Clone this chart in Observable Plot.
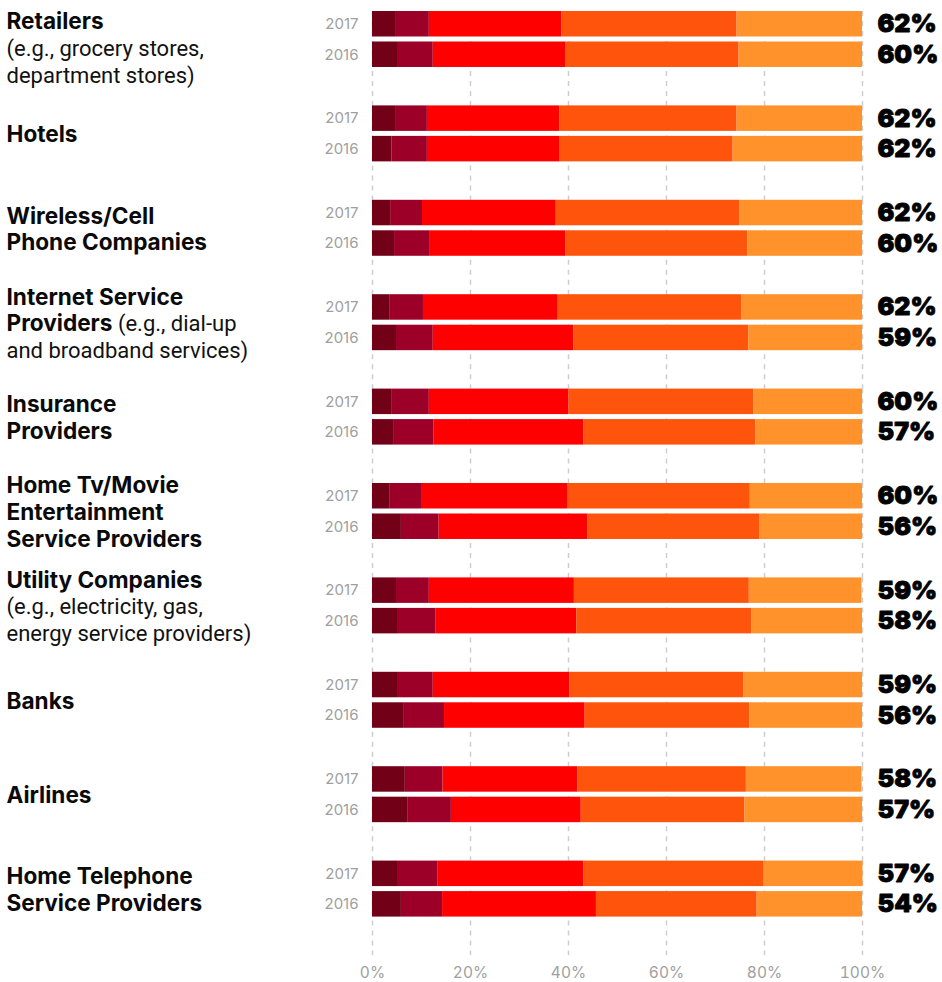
<!DOCTYPE html>
<html>
<head>
<meta charset="utf-8">
<script src="https://cdn.jsdelivr.net/npm/d3@7"></script>
<script src="https://cdn.jsdelivr.net/npm/@observablehq/plot@0.6"></script>
<style>
  html, body { margin: 0; padding: 0; background: #fff; }
  #chart svg { display: block; }
</style>
</head>
<body>
<div id="chart"></div>
<script>
// ---- Data ----
const categories = [
  "Retailers", "Hotels", "Wireless/Cell Phone Companies", "Internet Service Providers",
  "Insurance Providers", "Home Tv/Movie Entertainment Service Providers", "Utility Companies",
  "Banks", "Airlines", "Home Telephone Service Providers"
];
const boldLabels = [
  "Retailers", "Hotels", "Wireless/Cell\nPhone Companies", "Internet Service\nProviders",
  "Insurance\nProviders", "Home Tv/Movie\nEntertainment\nService Providers", "Utility Companies",
  "Banks", "Airlines", "Home Telephone\nService Providers"
];
const inlineNotes = ["", "", "", "(e.g., dial-up", "", "", "", "", "", ""];
const noteLabels = [
  "(e.g., grocery stores,\ndepartment stores)", "", "", "and broadband services)",
  "", "", "(e.g., electricity, gas,\nenergy service providers)", "", "", ""
];
const years = ["2017", "2016"];
const levels = ["1", "2", "3", "4", "5"];
const colors = ["#720016", "#9c0029", "#ff0000", "#ff540b", "#ff922b"];

// share of respondents per rating level (left to right), %
const share2017 = [
  [4.7, 6.9, 27.0, 35.8, 25.6],
  [4.7, 6.5, 27.0, 36.2, 25.6],
  [3.7, 6.5, 27.3, 37.5, 25.0],
  [3.5, 6.9, 27.5, 37.5, 24.6],
  [3.9, 7.7, 28.5, 37.7, 22.2],
  [3.5, 6.5, 29.8, 37.3, 22.9],
  [4.9, 6.7, 29.6, 35.7, 23.0],
  [5.1, 7.3, 27.9, 35.5, 24.2],
  [6.7, 7.7, 27.5, 34.4, 23.6],
  [5.1, 8.2, 29.8, 36.7, 20.3]
];
const share2016 = [
  [5.1, 7.3, 27.0, 35.4, 25.2],
  [4.0, 7.2, 27.1, 35.3, 26.4],
  [4.5, 7.3, 27.7, 37.1, 23.4],
  [4.9, 7.5, 28.7, 35.7, 23.2],
  [4.3, 8.2, 30.6, 35.1, 21.8],
  [5.9, 7.7, 30.4, 35.1, 20.9],
  [5.1, 7.9, 28.7, 35.7, 22.6],
  [6.5, 8.2, 28.7, 33.6, 23.0],
  [7.3, 8.8, 26.5, 33.4, 24.0],
  [5.9, 8.4, 31.4, 32.8, 21.5]
];
const topTwo2017 = [62, 62, 62, 62, 60, 60, 59, 59, 58, 57];
const topTwo2016 = [60, 62, 60, 59, 57, 56, 58, 56, 57, 54];
const xTicks = [0, 20, 40, 60, 80, 100];

// ---- Tables built from the arrays ----
const rows = [];
categories.forEach((c, i) => {
  years.forEach((yr) => {
    const vals = yr === "2017" ? share2017[i] : share2016[i];
    vals.forEach((v, k) => rows.push({category: c, year: yr, level: levels[k], value: v}));
  });
});
const totals = categories.flatMap((c, i) => [
  {category: c, year: "2017", top: topTwo2017[i]},
  {category: c, year: "2016", top: topTwo2016[i]}
]);

// ---- Layout constants ----
const WIDTH = 942, HEIGHT = 982;
const M_TOP = 11, M_BOTTOM = 27, M_LEFT = 372, M_RIGHT = 80;
const BOLD_SIZE = 22.6, NOTE_SIZE = 22, LINE_H = 26.6;
const GROUP_MID = 28;            // vertical centre of the 2017/2016 pair inside a facet
const TOP_LIMIT = 7;             // labels never start above this y
const BOLD_FONT = "Inter, 'Noto Sans', sans-serif";
const NOTE_FONT = "Roboto, 'Noto Sans', sans-serif";
const LEFT_DX = 6 - M_LEFT;

const NB = "\u00a0";
const labelData = categories.map((c, i) => {
  const b = boldLabels[i].split("\n");
  const n = noteLabels[i] ? noteLabels[i].split("\n") : [];
  const hasInline = !!inlineNotes[i];
  const blank = (k) => Array(k).fill(NB);
  const L = b.length + n.length;
  // keep the first facet's label block inside the picture
  const blockTop = M_TOP + GROUP_MID - L * LINE_H / 2;
  const shifted = i === 0 && blockTop < TOP_LIMIT;
  return {
    category: c,
    shifted,
    bold: [...b, ...blank(n.length)].join("\n"),
    note: [...blank(b.length), ...n].join("\n"),
    inline: hasInline ? [...blank(b.length - 1), inlineNotes[i], ...blank(n.length)].join("\n") : null,
    lastBold: b[b.length - 1],
    shift: shifted ? TOP_LIMIT - blockTop : 0
  };
});

const ctx = document.createElement("canvas").getContext("2d");
ctx.font = `700 ${BOLD_SIZE}px Inter`;
const inlineItems = labelData.filter(d => d.inline);
const inlineOffset = inlineItems.length ? ctx.measureText(inlineItems[0].lastBold).width : 0;
ctx.font = `400 ${NOTE_SIZE}px Roboto`;
const spaceW = ctx.measureText(" ").width;

const normal = labelData.filter(d => !d.shifted);
const moved = labelData.filter(d => d.shifted);
const movedShift = moved.length ? moved[0].shift : 0;

function labelMarks(data, extraDy) {
  if (!data.length) return [];
  const common = {
    fy: "category", frameAnchor: "top-left", dy: GROUP_MID + extraDy, textAnchor: "start",
    lineAnchor: "middle", lineHeight: LINE_H / BOLD_SIZE, fill: "#0a0a0a"
  };
  const commonNote = {...common, lineHeight: LINE_H / NOTE_SIZE, fill: "#111"};
  const inl = data.filter(d => d.inline);
  return [
    Plot.text(data, {...common, text: "bold", dx: LEFT_DX, fontSize: BOLD_SIZE, fontWeight: 700, fontFamily: BOLD_FONT}),
    Plot.text(data, {...commonNote, text: "note", dx: LEFT_DX, fontSize: NOTE_SIZE, fontWeight: 400, fontFamily: NOTE_FONT}),
    inl.length ? Plot.text(inl, {...commonNote, text: "inline", dx: LEFT_DX + inlineOffset + spaceW, fontSize: NOTE_SIZE, fontWeight: 400, fontFamily: NOTE_FONT}) : null
  ];
}

const chart = Plot.plot({
  width: WIDTH,
  height: HEIGHT,
  marginTop: M_TOP,
  marginBottom: M_BOTTOM,
  marginLeft: M_LEFT,
  marginRight: M_RIGHT,
  style: {fontFamily: BOLD_FONT, background: "#fff", overflow: "visible"},
  x: {domain: [0, 100], axis: null},
  y: {domain: years, paddingInner: 0.164, paddingOuter: 0.63, align: 0, round: false, axis: null},
  fy: {domain: categories, paddingInner: 0, paddingOuter: 0, round: false, axis: null},
  color: {domain: levels, range: colors},
  marks: [
    Plot.gridX({ticks: xTicks, stroke: "#cdcdcd", strokeOpacity: 1, strokeWidth: 1.5, strokeDasharray: "5,5"}),
    Plot.barX(rows, {fy: "category", y: "year", x: "value", fill: "level"}),
    Plot.axisY({tickSize: 0, tickPadding: 14, fill: "#a0a0a0", fontSize: 15, label: null}),
    Plot.axisX({ticks: xTicks, tickFormat: d => d + "%", tickSize: 0, tickPadding: 11, fill: "#a0a0a0", fontSize: 15.5, label: null}),
    ...labelMarks(normal, 0),
    ...labelMarks(moved, movedShift),
    Plot.text(totals, {fy: "category", y: "year", text: d => d.top + "%", frameAnchor: "right", dx: 15, textAnchor: "start", fontSize: 25, fontWeight: 900, fontFamily: "Inter, sans-serif", fill: "#000", stroke: "#000", strokeWidth: 0.8, strokeLinejoin: "round"})
  ]
});
document.getElementById("chart").appendChild(chart);
</script>
</body>
</html>
